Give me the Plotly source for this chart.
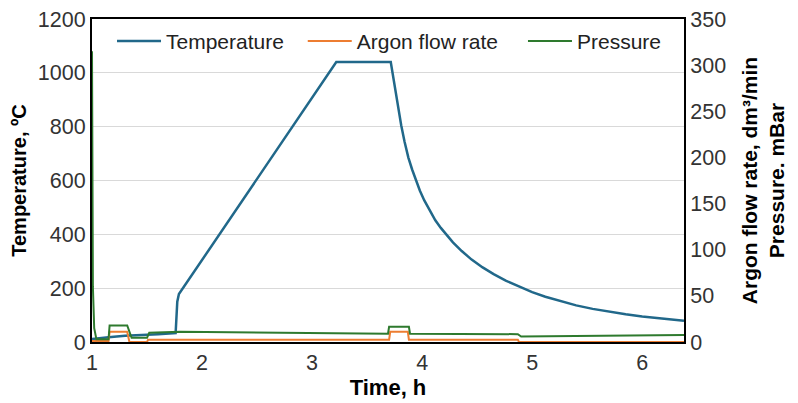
import plotly.graph_objects as go

# Temperature (left axis, °C)
t_temp = [1.0, 1.05, 1.15, 1.3, 1.5, 1.6, 1.76, 1.775, 1.79, 3.22, 3.715,
          3.725, 3.74, 3.76, 3.785, 3.81, 3.84, 3.875, 3.91, 3.94, 3.98, 4.02, 4.07,
          4.12, 4.17, 4.21, 4.28, 4.36, 4.45, 4.55, 4.65, 4.76, 4.88, 5.0, 5.12,
          5.25, 5.4, 5.55, 5.7, 5.85, 6.0, 6.15, 6.3, 6.38]
temp = [11, 14, 18, 23, 26, 29, 33, 150, 178, 1040, 1040,
        1015, 975, 925, 865, 805, 745, 685, 640, 603, 562, 526, 486,
        452, 424, 403, 370, 338, 306, 277, 252, 228, 205, 185, 168,
        152, 136, 123, 112, 103, 95, 88, 82, 79]

# Argon flow rate (right axis, dm3/min)
t_argon = [1.0, 1.15, 1.16, 1.32, 1.34, 1.5, 1.51, 3.7, 3.71, 3.87, 3.88, 4.87, 4.88, 6.38]
argon = [1, 1, 11, 11, 0, 0, 2.5, 2.5, 11, 11, 2.5, 2.5, 0, 0]

# Pressure (right axis, mBar)
t_press = [1.0, 1.003, 1.008, 1.02, 1.04, 1.15, 1.16, 1.32, 1.36, 1.5, 1.52, 1.8, 2.2, 2.8,
           3.69, 3.70, 3.88, 3.89, 4.87, 4.9, 5.5, 6.0, 6.38]
press = [315, 150, 60, 15, 3, 3, 18, 18, 4.5, 4.5, 10, 11, 10.5, 9.5,
         9, 16.5, 16.5, 9, 8.5, 6, 6.5, 7, 7.5]

x_ticks = [1, 2, 3, 4, 5, 6]
y_left_ticks = [0, 200, 400, 600, 800, 1000, 1200]
y_right_ticks = [0, 50, 100, 150, 200, 250, 300, 350]

FONT = "Liberation Sans, Arial, sans-serif"
BLUE = "#21688a"
ORANGE = "#ed7d31"
GREEN = "#2e7a2e"

fig = go.Figure()
fig.add_trace(go.Scatter(x=t_temp, y=temp, name="Temperature", mode="lines",
                         line=dict(color=BLUE, width=2.5), yaxis="y", legend="legend"))
fig.add_trace(go.Scatter(x=t_argon, y=argon, name="Argon flow rate", mode="lines",
                         line=dict(color=ORANGE, width=2), yaxis="y2", legend="legend2"))
fig.add_trace(go.Scatter(x=t_press, y=press, name="Pressure", mode="lines",
                         line=dict(color=GREEN, width=2), yaxis="y2", legend="legend3"))

leg_common = dict(orientation="h", y=0.994, xanchor="left", yanchor="top",
                  font=dict(size=21, color="#222222"), bgcolor="rgba(0,0,0,0)",
                  itemwidth=44)

fig.update_layout(
    width=798, height=403,
    margin=dict(l=92, r=114, t=19, b=61, autoexpand=False),
    paper_bgcolor="white", plot_bgcolor="white",
    font=dict(family=FONT, size=21.5, color="#333333"),
    showlegend=True,
    legend=dict(x=0.0338, **leg_common),
    legend2=dict(x=0.356, **leg_common),
    legend3=dict(x=0.728, **leg_common),
    xaxis=dict(range=[1, 6.38], tickvals=x_ticks, ticktext=[str(v) for v in x_ticks],
               showgrid=False, zeroline=False, showline=True, linecolor="black",
               linewidth=2, mirror=True, layer="below traces", ticks="", automargin=False,
               title=dict(text="<b>Time, h</b>", font=dict(size=22, color="black"),
                          standoff=2)),
    yaxis=dict(range=[0, 1200], tickvals=y_left_ticks, showgrid=True, gridcolor="#d9d9d9",
               gridwidth=1, zeroline=False, showline=True, linecolor="black", linewidth=2,
               layer="below traces", ticks="", automargin=False,
               title=dict(text="<b>Temperature, ºC</b>", font=dict(size=20, color="black"),
                          standoff=6)),
    yaxis2=dict(range=[0, 350], tickvals=y_right_ticks, overlaying="y", side="right",
                showgrid=False, zeroline=False, showline=True, linecolor="black",
                linewidth=2, layer="below traces", ticks="", automargin=False,
                title=dict(text="<b>Argon flow rate, dm³/min<br>Pressure. mBar</b>",
                           font=dict(size=21, color="black"), standoff=17)),
)

fig.write_html("out.html")
